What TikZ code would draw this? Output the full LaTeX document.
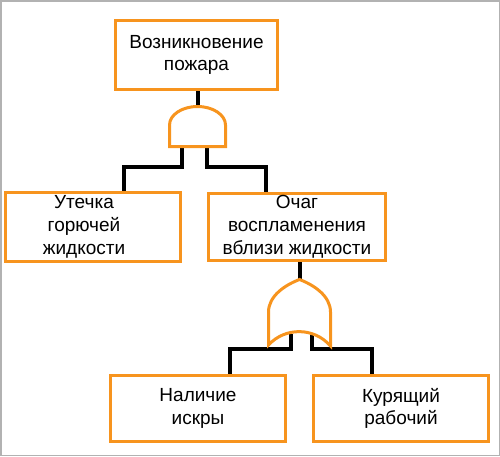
\documentclass[tikz,border=0pt]{standalone}
\usepackage{fontspec}
\setmainfont{Liberation Sans}
\usepackage{xcolor}
\usepackage{tikz}
\usetikzlibrary{backgrounds}
\definecolor{eventorange}{RGB}{247,148,30}

\begin{document}
\begin{tikzpicture}[
  x=1pt, y=-1pt,
  every node/.style={font=\fontsize{19}{22.8}\selectfont},
  event/.style={draw=eventorange, line width=3.2pt, fill=white, align=center, inner sep=0pt, minimum height=66.8pt, minimum width=174.8pt},
  gate/.style={draw=eventorange, line width=3pt, fill=white},
  wire/.style={draw=black, line width=4pt}
]
\useasboundingbox (0,0) rectangle (500,456);
\draw[gray!60, line width=1.5pt] (0.75,0.75) rectangle (499.25,455.25);

\node[event, minimum width=161.8pt, minimum height=68.8pt] (fire) at (196.5,55) {Возникновение\\пожара};
\node[event] (leak) at (93,227) {\begin{tabular}{@{}c@{}}Утечка\\горючей\\жидкости\end{tabular}\rule{18pt}{0pt}};
\node[event, minimum width=176.8pt] (source) at (297,227) {Очаг\\воспламенения\\вблизи жидкости};
\node[event, minimum height=65.8pt] (spark) at (198,408.5) {Наличие\\искры};
\node[event, minimum height=65.8pt] (smoker) at (401,408.5) {Курящий\\рабочий};

\coordinate (andtop) at (197.5,106.5);
\coordinate (andL) at (182,146.5);
\coordinate (andR) at (207,146.5);
\coordinate (ortip) at (299.5,279.5);
\coordinate (orL) at (291,334);
\coordinate (orR) at (312,334);

\begin{pgfonlayer}{background}
\draw[wire] (fire.south -| andtop) -- (andtop);
\draw[wire] (andL) -- ++(0,20) -| ([xshift=31pt]leak.north);
\draw[wire] (andR) -- ++(0,20) -| ([xshift=-31pt]source.north);
\draw[wire] (source.south -| ortip) -- (ortip);
\draw[wire] (orL) -- ++(0,15) -| ([xshift=32pt]spark.north);
\draw[wire] (orR) -- ++(0,15) -| ([xshift=-29pt]smoker.north);
\end{pgfonlayer}

\draw[gate] (169.5,146.5) -- (169.5,125) arc[start angle=180, end angle=360, x radius=28, y radius=18.5] -- (225.5,146.5) -- cycle;
\draw[gate] (ortip) .. controls (285,285) and (268.5,296) .. (268.5,312) -- (268.5,345)
  .. controls (285,327) and (314,327) .. (330.5,346) -- (330.5,312)
  .. controls (330.5,296) and (314,285) .. (ortip) -- cycle;
\end{tikzpicture}
\end{document}
